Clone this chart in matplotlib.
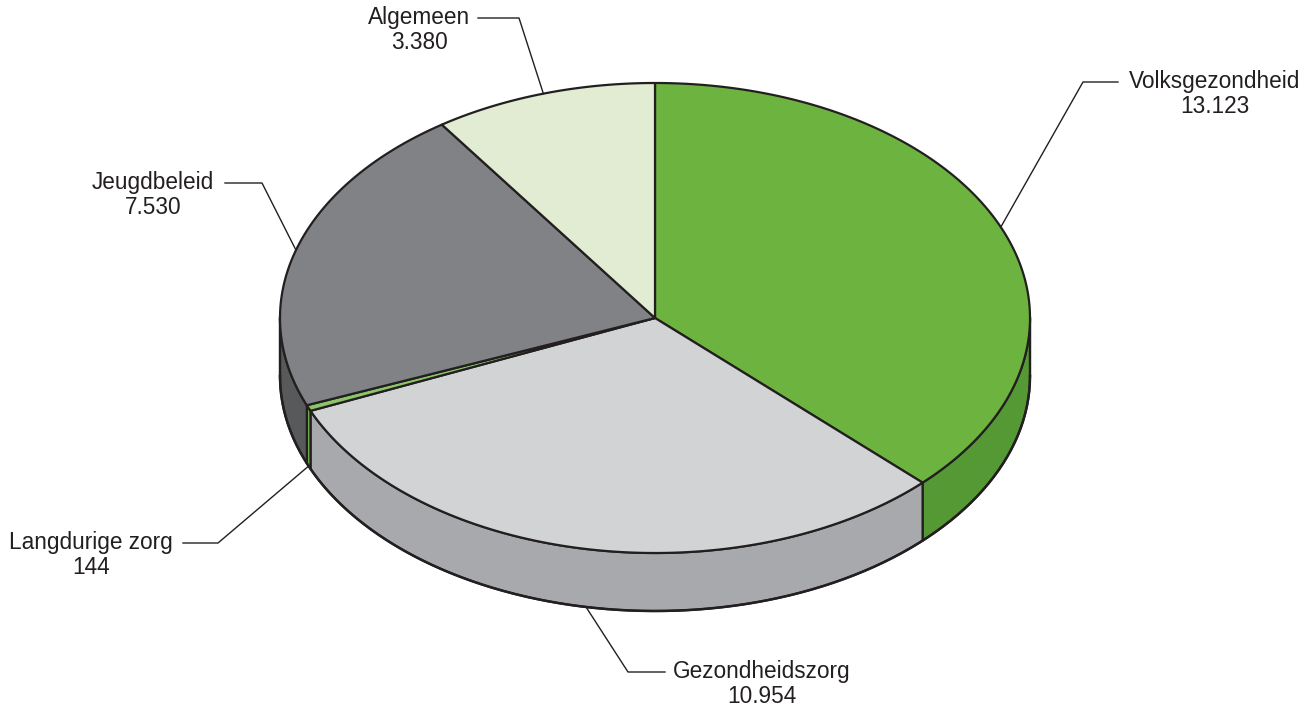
import numpy as np
import matplotlib
matplotlib.use("Agg")
import matplotlib.pyplot as plt
from matplotlib.patches import Polygon

labels = ["Volksgezondheid", "Gezondheidszorg", "Langdurige zorg", "Jeugdbeleid", "Algemeen"]
values = [13123, 10954, 144, 7530, 3380]
value_text = ["13.123", "10.954", "144", "7.530", "3.380"]
top_colors = ["#6db33f", "#d1d3d4", "#8cc569", "#808285", "#e1ecd3"]
side_colors = ["#559935", "#a7a9ac", "#6aa84a", "#58595b", "#c8d6b8"]

# label layout: elbow point, end of horizontal line, text centre (pixels)
elbows = [(1083, 82), (628, 672), (218, 543), (262, 183), (519, 18)]
line_ends = [(1118, 82), (665, 672), (183, 543), (225, 183), (478, 18)]
text_pos = [(1215, 82), (762, 672), (91, 543), (153, 183), (419, 18)]

W, H = 1315, 711
cx, cy, rx, ry, depth = 655, 318, 375, 235, 58
ink = "#231f20"

plt.rcParams["font.family"] = ["Liberation Sans", "DejaVu Sans"]

fig = plt.figure(figsize=(W / 100, H / 100), dpi=100)
ax = fig.add_axes([0, 0, 1, 1])
ax.set_xlim(0, W)
ax.set_ylim(H, 0)
ax.axis("off")


def pt(theta, dz=0.0):
    t = np.radians(theta)
    return cx + rx * np.cos(t), cy - ry * np.sin(t) + dz


def arc(a0, a1, dz=0.0, n=200):
    th = np.linspace(a0, a1, n)
    x, y = pt(th, dz)
    return np.column_stack([x, y])


vals = np.array(values, dtype=float)
sweep = vals / vals.sum() * 360.0
starts = 90 - np.concatenate([[0], np.cumsum(sweep)[:-1]])
ends = starts - sweep

# side walls (only front half, theta in [-180, 0])
for s, e, col in zip(starts, ends, side_colors):
    for off in (0, -360):
        a0, a1 = min(s + off, 0), max(e + off, -180)
        if a0 <= a1:
            continue
        top = arc(a0, a1)
        bot = arc(a1, a0, depth)
        ax.add_patch(Polygon(np.vstack([top, bot]), closed=True, facecolor=col,
                             edgecolor=ink, lw=1.6, joinstyle="round", zorder=1))

# outline of the whole side
ax.plot(*arc(0, -180, depth).T, color=ink, lw=1.8, zorder=2)
for x in (cx - rx, cx + rx):
    ax.plot([x, x], [cy, cy + depth], color=ink, lw=1.6, zorder=2)

# top wedges
for s, e, col in zip(starts, ends, top_colors):
    poly = np.vstack([[cx, cy], arc(s, e)])
    ax.add_patch(Polygon(poly, closed=True, facecolor=col, edgecolor=ink,
                         lw=1.6, joinstyle="round", zorder=3))

# labels with leader lines
for i, (s, e) in enumerate(zip(starts, ends)):
    mid = (s + e) / 2
    front = np.sin(np.radians(mid)) < -0.3
    x0, y0 = pt(mid, depth if front else 0)
    (xe, ye), (xl, yl), (xt, yt) = elbows[i], line_ends[i], text_pos[i]
    ax.plot([x0, xe, xl], [y0, ye, yl], color=ink, lw=1.0, zorder=4)
    ax.text(xt, yt - 12, labels[i] + "\n" + value_text[i], ha="center", va="top",
            fontsize=16.3, color=ink, linespacing=1.1, zorder=5)

fig.savefig("out.png", dpi=100)
